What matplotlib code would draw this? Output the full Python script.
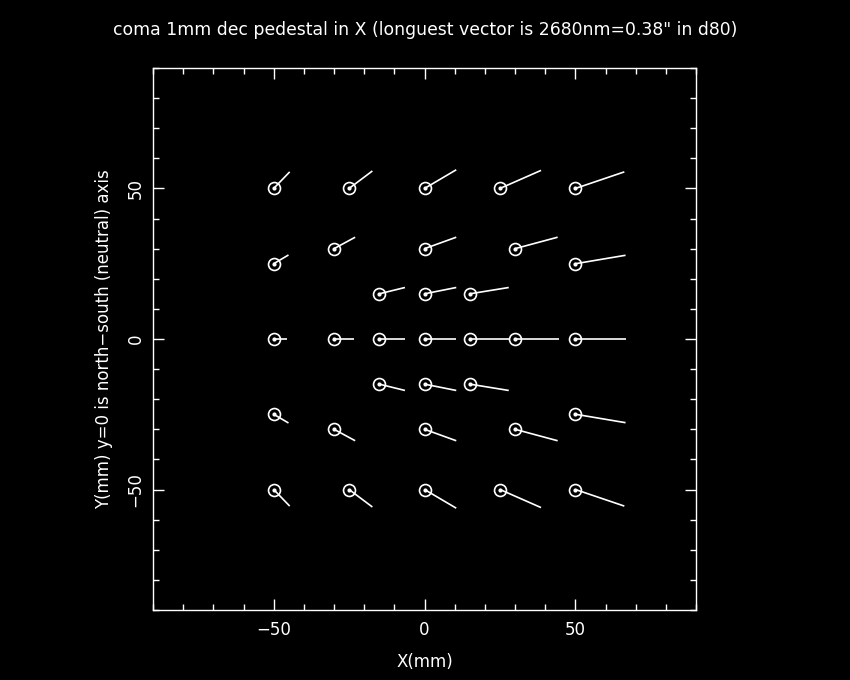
import matplotlib
matplotlib.use('Agg')
import matplotlib.pyplot as plt
from matplotlib.ticker import MultipleLocator

# field positions (mm)
xs = [-50, -25, 0, 25, 50,
      -50, -30, 0, 30, 50,
      -15, 0, 15,
      -50, -30, -15, 0, 15, 30, 50,
      -15, 0, 15,
      -50, -30, 0, 30, 50,
      -50, -25, 0, 25, 50]
ys = [50, 50, 50, 50, 50,
      25, 30, 30, 30, 25,
      15, 15, 15,
      0, 0, 0, 0, 0, 0, 0,
      -15, -15, -15,
      -25, -30, -30, -30, -25,
      -50, -50, -50, -50, -50]
# vector components (plot mm)
dxs = [5.3, 7.7, 10.5, 13.6, 16.2,
       4.9, 7.0, 10.5, 14.1, 16.6,
       8.5, 10.5, 12.9,
       4.5, 6.6, 8.5, 10.5, 12.9, 14.7, 16.7,
       8.5, 10.5, 12.9,
       4.9, 7.0, 10.5, 14.1, 16.6,
       5.3, 7.7, 10.5, 13.6, 16.2]
dys = [5.5, 5.8, 6.2, 6.0, 5.5,
       2.9, 3.8, 3.8, 3.8, 2.8,
       2.1, 2.1, 2.1,
       0, 0, 0, 0, 0, 0, 0,
       -2.1, -2.1, -2.1,
       -2.9, -3.8, -3.8, -3.8, -2.8,
       -5.5, -5.8, -6.2, -6.0, -5.5]

fig = plt.figure(figsize=(8.5, 6.8), dpi=100, facecolor='black')
ax = fig.add_axes([0.18, 0.103, 0.639, 0.797], facecolor='black')

for x, y, dx, dy in zip(xs, ys, dxs, dys):
    ax.plot([x, x + dx], [y, y + dy], color='white', lw=1.2, solid_capstyle='butt')
ax.plot(xs, ys, 'o', mfc='none', mec='white', ms=8.6, mew=1.2, ls='none')
ax.plot(xs, ys, 'o', color='white', ms=2, ls='none')

ax.set_xlim(-90, 90)
ax.set_ylim(-90, 90)
for s in ax.spines.values():
    s.set_color('white')
    s.set_linewidth(1)
ax.xaxis.set_major_locator(MultipleLocator(50))
ax.yaxis.set_major_locator(MultipleLocator(50))
ax.xaxis.set_minor_locator(MultipleLocator(10))
ax.yaxis.set_minor_locator(MultipleLocator(10))
ax.tick_params(which='both', direction='in', top=True, right=True, colors='white', labelsize=12, width=1)
ax.tick_params(which='major', length=8, pad=8)
ax.tick_params(which='minor', length=4)
ax.tick_params(axis='y', which='major', pad=6)
ax.set_xticks([-50, 0, 50], ['\u221250', '0', '50'])
ax.set_yticks([-50, 0, 50], ['\u221250', '0', '50'])
for t in ax.get_yticklabels():
    t.set_rotation(90)
    t.set_va('center')

ax.set_xlabel('X(mm)', color='white', fontsize=12, labelpad=10)
ax.set_ylabel('Y(mm) y=0 is north\u2212south (neutral) axis', color='white', fontsize=12, labelpad=10)
fig.text(0.5, 0.956, 'coma 1mm dec pedestal in X (longuest vector is 2680nm=0.38" in d80)',
         color='white', fontsize=12.4, ha='center', va='center')

fig.savefig('out.png', dpi=100, facecolor='black')
